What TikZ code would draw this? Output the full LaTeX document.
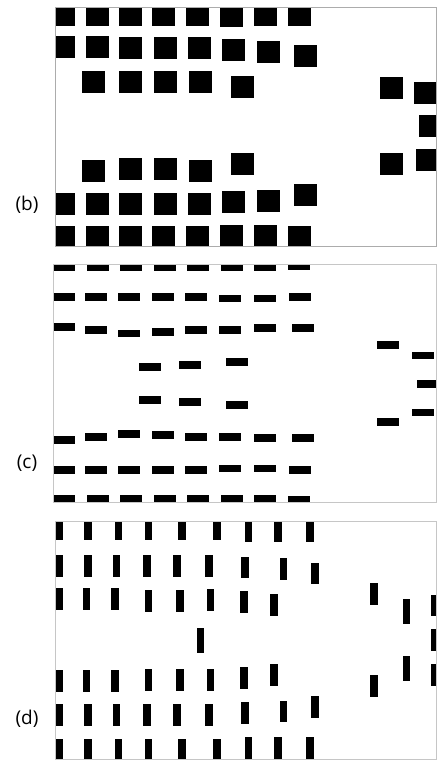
\documentclass[tikz,border=0pt]{standalone}
\usepackage{fontspec}
\setmainfont{Open Sans}
\begin{document}
\begin{tikzpicture}[x=1pt, y=-1pt,
    frm/.style={draw=gray!45, line width=0.8pt},
    lbl/.style={font=\fontsize{19}{21}\selectfont}]
  \useasboundingbox (0,0) rectangle (437,761);
  % (b) 正方形の配列
  \begin{scope}
    \clip (55,7) rectangle (436.5,246);
    \foreach \x/\y in {52/4, 86/4, 119/4, 152/4, 186/4, 220/5, 254/4, 288/4,
                       52/36, 86/36, 119/37, 154/37, 188/37, 222/39, 257/41, 294/45,
                       82/71, 119/71, 154/71, 189/71, 231/76,
                       380/77, 414/82, 419/115, 380/153, 416/149,
                       82/160, 119/158, 154/158, 189/160, 231/153,
                       52/193, 86/193, 119/193, 154/193, 188/193, 222/191, 257/190, 294/184,
                       52/226, 86/226, 119/226, 152/226, 186/226, 220/225, 254/225, 288/226}
      \fill[black] (\x,\y) rectangle ++(23,22);
  \end{scope}
  \draw[frm, draw=gray!65] (55,7) rectangle (436.5,246);
  \node[lbl] (labelb) at (27,205) {(b)};
  % (c) 横長の短冊
  \begin{scope}
    \clip (53.5,264) rectangle (436.5,502);
    \foreach \x/\y in {53/263, 87/263, 120/263, 154/263, 187/263, 221/263, 254/263, 288/262,
                       53/293, 85/293, 118/293, 152/293, 185/293, 219/294.5, 254/294.5, 289/293,
                       53/323, 85/326, 118/329.5, 152/328, 185/326, 219/326, 254/324, 292/324,
                       139/363, 179/361, 226/358, 139/396, 179/398, 226/401,
                       377/341, 412/351.5, 417/380, 412/408.5, 377/418,
                       53/436, 85/433, 118/430, 152/431, 185/433, 219/433, 254/434, 292/434,
                       53/466, 85/466, 118/466, 152/466, 185/466, 219/464.5, 254/464.5, 289/466,
                       53/495, 87/495, 120/495, 154/495, 187/495, 221/495, 254/495, 288/496}
      \fill[black] (\x,\y) rectangle ++(22,7.5);
  \end{scope}
  \draw[frm] (53.5,264) rectangle (436.5,502);
  \node[lbl] (labelc) at (27,463) {(c)};
  % (d) 縦長の短冊
  \begin{scope}
    \clip (55,521) rectangle (436.5,759);
    \foreach \x/\y in {55.7/518, 84/518, 114.7/518, 144.7/518, 178/518, 213/518, 244.7/520, 274.3/520, 306.3/520,
                       55.7/555, 84/555, 112.7/555, 143.3/555, 173.3/555, 205/555, 241.3/556.7, 279.7/558.3, 311.3/562.7,
                       55.7/588.3, 82.7/588.3, 111.3/588.3, 144.7/590, 176.3/590, 206.7/589, 240/591, 270/594.3,
                       370/583.3, 430.7/594.7, 430.7/629.3, 430.7/664.3, 370/675.3,
                       55.7/670.3, 82.7/670.3, 111.3/670.3, 144.7/669, 176.3/669, 206.7/669, 240/667.3, 270/664,
                       55.7/704.3, 84/704.3, 112.7/704.3, 143.3/704.3, 173.3/704.3, 205/704.3, 241.3/702.3, 279.7/700.7, 311.3/696,
                       55.7/738.7, 84/738.7, 114.7/738.7, 144.7/738.7, 178/739, 213/739, 244.7/737, 274.3/737, 306.3/737}
      \fill[black] (\x,\y) rectangle ++(7.5,21.5);
    \foreach \x/\y in {197/627.7, 403.3/599, 403.3/656}
      \fill[black] (\x,\y) rectangle ++(6.7,25);
  \end{scope}
  \draw[frm] (55,521) rectangle (436.5,759);
  \node[lbl] (labeld) at (27,719) {(d)};
\end{tikzpicture}
\end{document}
